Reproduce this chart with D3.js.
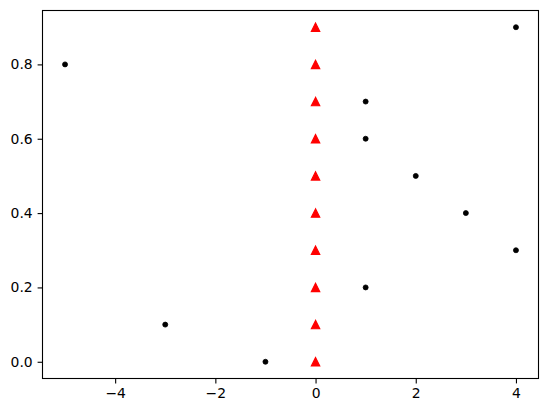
<!DOCTYPE html>
<html><head><meta charset="utf-8">
<script src="https://cdn.jsdelivr.net/npm/d3@7"></script>
<style>body{margin:0;background:#fff}svg{display:block}text{font-family:"DejaVu Sans",sans-serif;font-size:13.9px;fill:#000}</style>
</head><body>
<svg id="c" width="547" height="413"></svg>
<script>
const dotX = [-5, -3, -1, 1, 1, 2, 3, 4, 4, 1];
const dotY = [0.8, 0.1, 0.0, 0.7, 0.6, 0.5, 0.4, 0.9, 0.3, 0.2];
const triX = [0, 0, 0, 0, 0, 0, 0, 0, 0, 0];
const triY = [0.0, 0.1, 0.2, 0.3, 0.4, 0.5, 0.6, 0.7, 0.8, 0.9];
const xTicks = [-4, -2, 0, 2, 4];
const yTicks = [0.0, 0.2, 0.4, 0.6, 0.8];

const L = 42.5, R = 538.5, T = 10.5, B = 378.5;
const svg = d3.select("#c");
const x = d3.scaleLinear().domain([-5.45, 4.45]).range([L, R]);
const y = d3.scaleLinear().domain([-0.045, 0.945]).range([B, T]);

const fmtX = d => (d < 0 ? "\u2212" + Math.abs(d) : String(d));
const xa = svg.append("g").attr("transform", `translate(0,${B})`)
  .call(d3.axisBottom(x).tickValues(xTicks).tickFormat(fmtX).tickSize(4.9).tickPadding(4.9));
const ya = svg.append("g").attr("transform", `translate(${L},0)`)
  .call(d3.axisLeft(y).tickValues(yTicks).tickFormat(d3.format(".1f")).tickSize(4.9).tickPadding(4.9));
[xa, ya].forEach(a => {
  a.select(".domain").remove();
  a.selectAll(".tick line").attr("stroke", "#000").attr("stroke-width", 1.1);
  a.selectAll(".tick text").attr("font-family", "DejaVu Sans").attr("font-size", 13.9).attr("fill", "#000");
});

const triData = triX.map((d, i) => [d, triY[i]]);
const s = 4.17;
svg.append("g").selectAll("path").data(triData).join("path")
  .attr("d", d => `M${x(d[0])},${y(d[1]) - s}L${x(d[0]) - s},${y(d[1]) + s}L${x(d[0]) + s},${y(d[1]) + s}Z`)
  .attr("fill", "red").attr("stroke", "red").attr("stroke-width", 1.2).attr("stroke-linejoin", "miter");

const dotData = dotX.map((d, i) => [d, dotY[i]]);
svg.append("g").selectAll("circle").data(dotData).join("circle")
  .attr("cx", d => x(d[0])).attr("cy", d => y(d[1])).attr("r", 2.5)
  .attr("fill", "#000").attr("stroke", "#000").attr("stroke-width", 0.8);

svg.append("rect").attr("x", L).attr("y", T).attr("width", R - L).attr("height", B - T)
  .attr("fill", "none").attr("stroke", "#000").attr("stroke-width", 1.1);
</script>
</body></html>
